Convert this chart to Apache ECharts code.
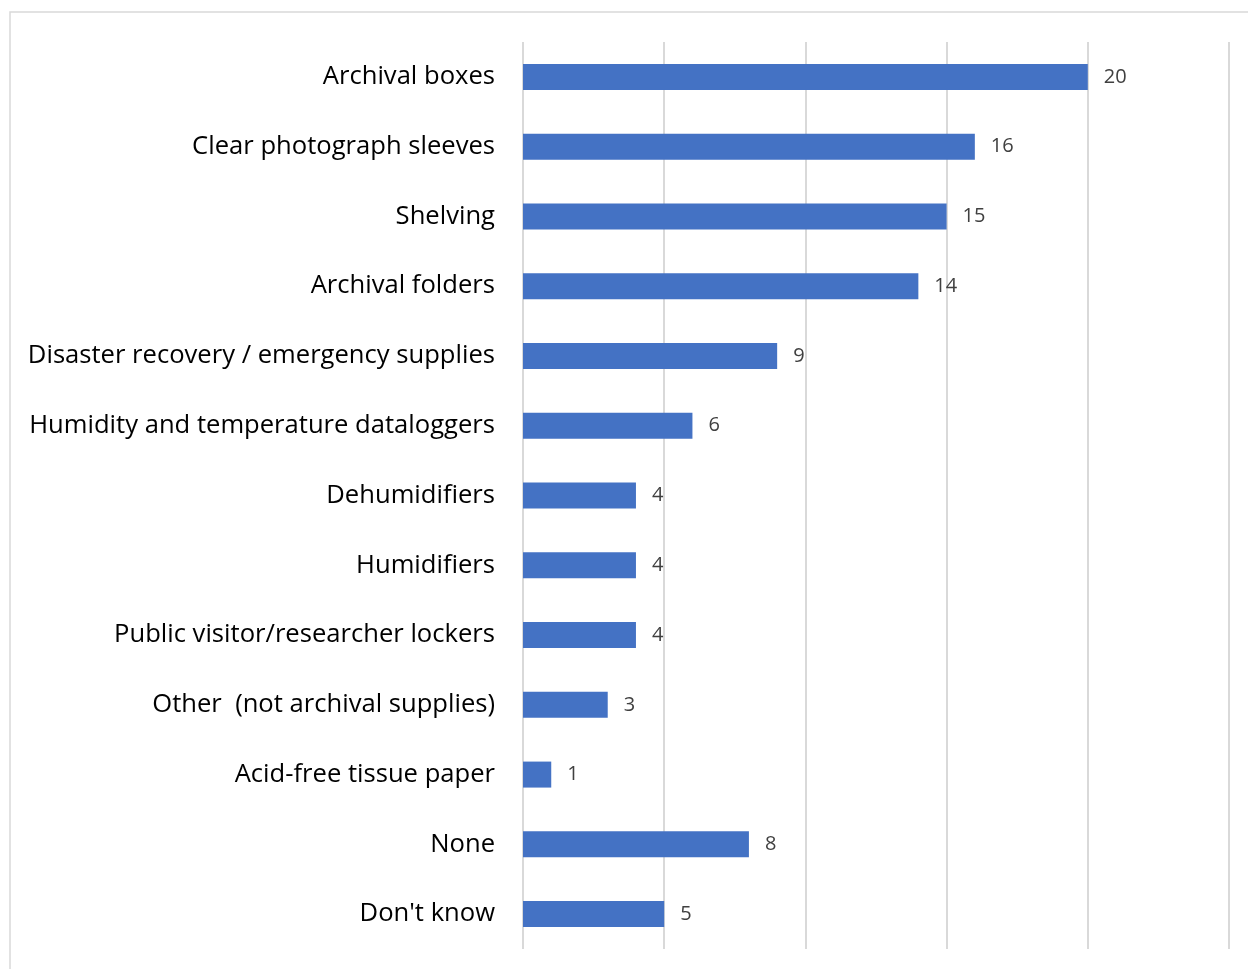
<!DOCTYPE html>
<html>
<head>
<meta charset="utf-8">
<script src="https://cdn.jsdelivr.net/npm/echarts@6/dist/echarts.min.js"></script>
<style>
  html, body { margin: 0; padding: 0; background: #fff; }
  #chart { width: 1248px; height: 969px; }
</style>
</head>
<body>
<div id="chart"></div>
<script>
const categories = [
  'Archival boxes',
  'Clear photograph sleeves',
  'Shelving',
  'Archival folders',
  'Disaster recovery / emergency supplies',
  'Humidity and temperature dataloggers',
  'Dehumidifiers',
  'Humidifiers',
  'Public visitor/researcher lockers',
  'Other  (not archival supplies)',
  'Acid-free tissue paper',
  'None',
  "Don't know"
];
const counts = [20, 16, 15, 14, 9, 6, 4, 4, 4, 3, 1, 8, 5];

const myChart = echarts.init(document.getElementById('chart'));
myChart.setOption({
  animation: false,
  graphic: [{
    type: 'rect',
    shape: { x: 10, y: 12, width: 1250, height: 970 },
    style: { fill: 'none', stroke: '#d9d9d9', lineWidth: 1.5 },
    silent: true
  }],
  grid: { left: 523, right: 19, top: 42, bottom: 20 },
  xAxis: {
    type: 'value',
    min: 0,
    max: 25,
    interval: 5,
    axisLabel: { show: false },
    axisLine: { show: false },
    axisTick: { show: false },
    splitLine: { lineStyle: { color: '#d9d9d9', width: 2 } }
  },
  yAxis: {
    type: 'category',
    data: categories,
    inverse: true,
    axisLine: { show: false },
    axisTick: { show: false },
    axisLabel: {
      margin: 28,
      fontFamily: 'Open Sans',
      fontSize: 25.6,
      color: '#000'
    }
  },
  series: [{
    type: 'bar',
    data: counts,
    barWidth: 26,
    itemStyle: { color: '#4472C4' },
    label: {
      show: true,
      position: 'right',
      distance: 16,
      fontFamily: 'Open Sans',
      fontSize: 20,
      color: '#404040'
    }
  }]
});

window.addEventListener('resize', function() {
  myChart.resize();
});
</script>
</body>
</html>
